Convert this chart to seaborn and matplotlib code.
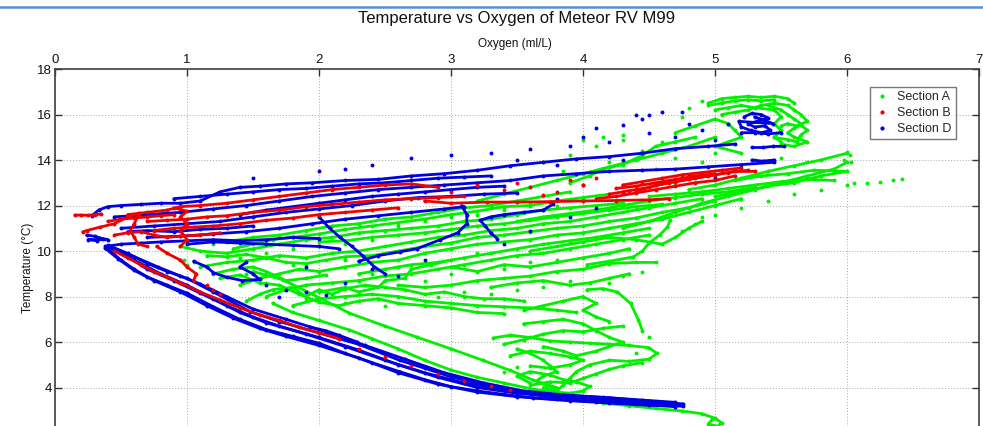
import matplotlib
matplotlib.use("Agg")
import matplotlib.pyplot as plt
import pandas as pd
import seaborn as sns
from matplotlib.lines import Line2D

# ---------------- data (oxygen ml/L, temperature degC) ----------------
SECTIONS = ["Section A", "Section B", "Section D"]
COLORS = {"Section A": "#00f000", "Section B": "#f00000", "Section D": "#0000e0"}
X_TICKS = [0, 1, 2, 3, 4, 5, 6, 7]
Y_TICKS = [4, 6, 8, 10, 12, 14, 16, 18]

# Section A (green) profiles
a_env = [(1.65, 7.7), (1.8, 7.3), (2.0, 6.95), (2.23, 6.53), (2.4, 6.15), (2.6, 5.7), (2.8, 5.2),
         (3.0, 4.77), (3.2, 4.45), (3.4, 4.2), (3.6, 3.95), (3.75, 3.8)]
a_env2 = [(1.5, 9.1), (1.73, 8.73), (2.0, 7.95), (2.23, 7.27), (2.5, 6.7), (2.74, 6.22), (3.0, 5.7),
          (3.24, 5.2), (3.45, 4.75), (3.62, 4.33), (3.8, 4.0)]
a_tail = [(3.8, 3.75), (4.0, 3.5), (4.15, 3.32), (4.35, 3.2), (4.55, 3.08), (4.75, 2.97), (4.9, 2.85),
          (5.0, 2.65), (5.05, 2.45), (5.02, 2.3), (4.95, 2.4), (4.98, 2.6)]
a_f1 = [(4.03, 8.3), (4.15, 8.35), (4.26, 8.2), (4.36, 7.7), (4.42, 6.97), (4.45, 6.5)]
a_f2 = [(3.32, 6.18), (3.45, 6.3), (3.6, 6.2), (3.75, 6.05), (3.9, 6.0), (4.05, 5.95), (4.2, 5.9),
        (4.35, 5.85), (4.5, 5.75), (4.56, 5.5), (4.5, 5.25), (4.35, 5.15), (4.2, 5.2), (4.05, 5.0),
        (3.95, 4.7), (3.9, 4.4), (3.85, 4.1), (3.8, 3.85)]
a_f3 = [(3.5, 5.7), (3.6, 5.5), (3.7, 5.2), (3.75, 4.95), (3.8, 4.7), (3.7, 4.5), (3.65, 4.3),
        (3.72, 4.1), (3.8, 3.9)]
a_f4 = [(3.55, 6.8), (3.7, 6.9), (3.85, 7.0), (4.0, 6.8), (4.1, 6.5), (4.2, 6.2), (4.3, 6.0),
        (4.1, 5.6), (3.95, 5.4), (3.85, 5.6), (3.7, 5.8)]
a_f5 = [(3.55, 7.4), (3.7, 7.6), (3.85, 7.8), (4.0, 8.0), (4.1, 7.7), (4.0, 7.4), (4.1, 7.1), (4.2, 6.9)]
a_f6 = [(3.7, 4.0), (3.8, 3.8), (3.9, 3.75), (4.0, 3.85), (4.05, 4.05), (3.95, 4.25), (3.85, 4.35),
        (3.75, 4.55), (3.6, 4.7), (3.5, 4.5), (3.6, 4.2)]
a_f7 = [(3.4, 5.9), (3.55, 6.1), (3.7, 6.35), (3.85, 6.5), (4.0, 6.45), (4.15, 6.6), (4.3, 6.7)]
a_f8 = [(3.6, 4.1), (3.75, 4.25), (3.9, 4.2), (4.0, 4.4), (4.1, 4.6), (4.2, 4.8), (4.3, 4.95), (4.45, 5.1)]
a_f9 = [(3.45, 5.4), (3.6, 5.6), (3.75, 5.5), (3.9, 5.35), (4.0, 5.2), (3.9, 5.0), (3.75, 4.85), (3.6, 4.95)]
a_c1 = [(0.95, 10.2), (1.1, 10.0), (1.3, 9.9), (1.5, 10.1), (1.7, 10.3), (1.9, 10.5), (2.1, 10.6),
        (2.3, 10.8), (2.5, 10.9), (2.7, 11.0), (2.9, 11.1), (3.1, 11.3), (3.3, 11.4), (3.5, 11.6),
        (3.7, 11.8), (3.9, 11.9), (4.1, 12.0), (4.3, 12.1)]
a_c2 = [(1.1, 9.3), (1.3, 9.5), (1.5, 9.6), (1.7, 9.8), (1.9, 9.7), (2.1, 9.9), (2.3, 10.0),
        (2.5, 10.2), (2.7, 10.4), (2.9, 10.6), (3.1, 10.7), (3.3, 10.9), (3.5, 11.0), (3.7, 11.2),
        (3.9, 11.3), (4.1, 11.5), (4.3, 11.7), (4.5, 11.9), (4.7, 12.1), (4.9, 12.3)]
a_c3 = [(1.4, 8.5), (1.55, 8.8), (1.7, 9.0), (1.85, 9.2), (2.0, 9.1), (2.2, 9.3), (2.4, 9.5),
        (2.6, 9.6), (2.8, 9.9), (3.0, 10.1), (3.2, 10.3), (3.4, 10.4), (3.6, 10.5), (3.8, 10.7),
        (4.0, 10.8), (4.2, 11.0), (4.4, 11.2), (4.6, 11.4), (4.8, 11.7), (5.0, 12.0), (5.2, 12.3)]
a_c4 = [(1.6, 8.0), (1.75, 8.3), (1.9, 8.5), (2.1, 8.6), (2.3, 8.7), (2.5, 8.9), (2.7, 9.0),
        (2.9, 9.2), (3.1, 9.4), (3.3, 9.6), (3.5, 9.8), (3.7, 9.9), (3.9, 10.1), (4.1, 10.3),
        (4.3, 10.5), (4.5, 10.7)]
a_c5 = [(1.8, 7.6), (2.0, 7.9), (2.2, 8.0), (2.4, 8.1), (2.6, 8.0), (2.8, 7.8), (3.0, 7.7),
        (3.2, 7.6), (3.4, 7.55), (3.6, 7.5), (3.8, 7.4), (3.95, 7.3)]
a_c6 = [(2.6, 8.5), (2.8, 8.4), (3.0, 8.5), (3.2, 8.7), (3.4, 8.8), (3.6, 8.9), (3.8, 9.1),
        (4.0, 9.2), (4.2, 9.45), (4.4, 9.5), (4.55, 9.5)]
a_c7 = [(4.03, 9.4), (4.2, 9.55), (4.38, 9.74), (4.45, 10.0), (4.5, 10.35), (4.58, 10.7),
        (4.64, 11.05), (4.66, 11.36)]
a_c8 = [(1.3, 10.4), (1.5, 10.6), (1.7, 10.7), (1.9, 10.9), (2.1, 11.1), (2.3, 11.2), (2.5, 11.4),
        (2.7, 11.5), (2.9, 11.7), (3.1, 11.9), (3.3, 12.0), (3.5, 12.2), (3.7, 12.4), (3.9, 12.6)]
a_c9 = [(2.0, 8.2), (2.2, 8.4), (2.3, 8.2), (2.45, 8.4), (2.5, 8.7), (2.65, 8.8), (2.7, 9.2),
        (2.85, 9.4), (3.0, 9.6)]
a_c10 = [(1.2, 9.0), (1.35, 9.2), (1.5, 9.3), (1.6, 9.1), (1.75, 8.7), (1.9, 8.8), (2.05, 8.95)]
a_c11 = [(1.15, 9.8), (1.3, 9.75), (1.45, 9.85), (1.6, 9.7), (1.75, 9.5), (1.9, 9.45), (2.05, 9.6),
         (2.2, 9.75), (2.4, 9.8), (2.6, 10.0), (2.8, 10.2), (3.0, 10.35), (3.2, 10.6), (3.4, 10.7),
         (3.6, 10.85), (3.8, 11.0), (4.0, 11.1), (4.2, 11.3), (4.4, 11.45), (4.6, 11.7), (4.8, 11.9),
         (5.0, 12.2)]
a_c12 = [(1.25, 8.8), (1.4, 8.95), (1.55, 8.6), (1.7, 8.5), (1.85, 8.1), (2.0, 7.75), (2.15, 7.6),
         (2.3, 7.8), (2.45, 7.9), (2.6, 7.7), (2.8, 7.6), (3.0, 7.5), (3.2, 7.3), (3.4, 7.25)]
a_c13 = [(2.0, 10.4), (2.2, 10.45), (2.4, 10.6), (2.6, 10.7), (2.8, 10.8), (3.0, 10.95), (3.2, 11.1),
         (3.4, 11.2), (3.6, 11.35), (3.8, 11.5), (4.0, 11.65), (4.2, 11.8), (4.4, 11.95), (4.6, 12.05)]
a_c14 = [(3.0, 9.3), (3.2, 9.1), (3.4, 9.4), (3.6, 9.3), (3.8, 9.5), (4.0, 9.7), (4.2, 9.9), (4.35, 10.1)]
a_c15 = [(3.3, 8.4), (3.5, 8.6), (3.7, 8.7), (3.9, 8.5), (4.05, 8.6), (4.2, 8.8), (4.35, 9.0)]
a_c16 = [(2.3, 9.0), (2.5, 9.2), (2.7, 9.4), (2.9, 9.5), (3.1, 9.7), (3.3, 9.9), (3.5, 10.1),
         (3.7, 10.3), (3.9, 10.45), (4.1, 10.6), (4.3, 10.8), (4.5, 11.0)]
a_c17 = [(1.35, 10.1), (1.5, 10.3), (1.65, 10.5), (1.8, 10.6), (2.0, 10.75), (2.2, 10.95), (2.4, 11.1),
         (2.6, 11.25), (2.8, 11.4), (3.0, 11.6), (3.2, 11.75), (3.4, 11.95), (3.6, 12.0), (3.8, 12.2),
         (4.0, 12.35), (4.2, 12.5)]
a_c18 = [(1.45, 7.8), (1.55, 8.1), (1.65, 8.3), (1.8, 8.4), (1.9, 8.0), (2.0, 8.3), (2.1, 8.1),
         (2.2, 8.35), (2.35, 8.5), (2.5, 8.4), (2.65, 8.3), (2.8, 8.1), (2.95, 8.2), (3.1, 8.0),
         (3.25, 7.9), (3.4, 7.9), (3.55, 7.8)]
a_c19 = [(3.5, 11.3), (3.7, 11.5), (3.9, 11.65), (4.1, 11.8), (4.3, 12.0), (4.5, 12.2), (4.7, 12.35),
         (4.9, 12.5), (5.1, 12.6), (5.3, 12.8)]
a_c20 = [(3.6, 10.0), (3.8, 10.2), (4.0, 10.4), (4.2, 10.6), (4.4, 10.5), (4.6, 10.3), (4.7, 10.6),
         (4.8, 11.0), (4.9, 11.3)]
a_u1 = [(3.2, 12.2), (3.4, 12.5), (3.6, 12.8), (3.8, 13.1), (4.0, 13.4), (4.2, 13.7), (4.4, 14.0),
        (4.6, 14.3), (4.8, 14.6), (5.0, 15.0)]
a_u2 = [(4.3, 11.0), (4.5, 11.3), (4.7, 11.7), (4.9, 12.1), (5.1, 12.4), (5.3, 12.7), (5.5, 13.0),
        (5.7, 13.3), (5.9, 13.6), (6.0, 13.9)]
a_u3 = [(4.8, 12.7), (5.0, 12.9), (5.2, 13.2), (5.4, 13.5), (5.6, 13.75), (5.8, 14.0), (6.0, 14.3)]
a_u4 = [(4.5, 12.4), (4.7, 12.5), (4.9, 12.6), (5.1, 12.75), (5.3, 12.9), (5.5, 13.05),
        (5.7, 13.15), (5.9, 13.1)]
a_u5 = [(5.0, 12.4), (5.2, 12.6), (5.4, 12.85), (5.6, 13.0), (5.8, 13.3), (6.0, 13.5), (5.75, 13.55),
        (5.55, 13.4), (5.35, 13.3), (5.15, 13.1)]
a_u6 = [(3.9, 13.0), (4.05, 13.3), (4.15, 13.6), (4.3, 13.8), (4.45, 14.2), (4.55, 14.6), (4.7, 14.8),
        (4.85, 15.0)]
a_t1 = [(4.95, 16.5), (5.05, 16.7), (5.15, 16.75), (5.25, 16.8), (5.35, 16.75), (5.45, 16.8),
        (5.55, 16.7), (5.6, 16.5)]
a_t2 = [(5.4, 16.4), (5.5, 16.2), (5.55, 16.0), (5.6, 15.8), (5.65, 15.6), (5.6, 15.4), (5.55, 15.2),
        (5.6, 15.0), (5.7, 14.8), (5.6, 14.6), (5.5, 14.7)]
a_t3 = [(5.0, 16.2), (5.1, 16.3), (5.2, 16.4), (5.3, 16.3), (5.45, 16.2), (5.5, 15.9), (5.45, 15.6),
        (5.5, 15.3), (5.45, 15.0), (5.5, 14.8)]
a_t4 = [(4.7, 15.2), (4.85, 15.5), (5.0, 15.8), (5.1, 15.6), (5.15, 15.3), (5.2, 15.0), (5.1, 14.8),
        (5.0, 14.6), (5.2, 14.3)]
a_t5 = [(5.05, 16.0), (5.15, 16.1), (5.25, 16.2), (5.35, 16.4), (5.45, 16.5), (5.55, 16.4), (5.6, 16.2),
        (5.65, 16.0), (5.7, 15.7), (5.62, 15.5), (5.55, 15.6), (5.5, 15.5)]
a_t6 = [(5.45, 15.0), (5.55, 14.9), (5.62, 14.8), (5.65, 15.1), (5.7, 15.3), (5.65, 15.55)]
a_t7 = [(4.95, 16.4), (5.05, 16.5), (5.15, 16.6), (5.25, 16.65), (5.35, 16.6), (5.45, 16.65)]
a_dots = [(1.0, 9.4), (1.05, 9.5), (0.98, 9.6), (1.2, 10.3), (1.45, 9.0), (1.6, 8.6), (1.8, 9.4),
          (2.0, 10.2), (2.2, 9.6), (2.4, 9.0), (2.6, 9.3), (2.8, 8.7), (3.0, 9.0), (3.2, 9.9),
          (3.4, 9.2), (3.6, 9.5), (3.8, 9.6), (3.5, 8.3), (3.3, 8.1), (3.1, 8.2), (2.9, 8.0),
          (2.5, 7.6), (2.2, 7.7), (1.9, 7.9), (3.7, 8.4), (3.9, 8.7), (4.2, 8.6), (4.3, 8.9),
          (4.45, 9.1), (4.75, 10.9), (4.85, 11.2), (4.9, 11.5), (5.0, 11.6), (5.2, 11.9), (5.4, 12.2),
          (5.6, 12.5), (5.8, 12.7), (6.0, 12.9), (5.9, 13.5), (5.7, 13.9), (5.5, 14.1), (5.3, 14.0),
          (4.7, 13.0), (4.4, 12.7), (4.2, 12.4), (4.0, 12.2), (3.8, 12.0), (3.6, 12.1), (3.4, 11.8),
          (3.2, 11.6), (3.0, 11.5), (2.8, 11.3), (2.6, 11.1), (2.4, 10.5), (2.2, 10.3), (1.8, 10.1),
          (1.6, 9.9), (1.4, 9.7), (3.7, 13.9), (3.9, 14.2), (4.1, 14.6), (4.3, 14.9), (4.45, 14.4),
          (4.6, 14.8), (4.7, 14.1), (4.2, 13.9), (3.85, 13.5), (4.55, 13.6), (4.9, 13.9), (5.0, 14.3),
          (4.0, 14.9), (4.3, 15.1), (4.15, 15.0), (4.8, 16.3), (4.9, 16.6), (4.75, 15.9),
          (6.05, 13.0), (6.15, 13.0), (6.25, 13.05), (6.35, 13.1), (6.42, 13.15), (6.0, 14.35),
          (6.02, 14.2), (5.98, 14.0), (6.03, 13.9), (4.5, 6.2), (4.4, 5.5), (3.4, 4.7), (3.5, 4.9)]

# Section B (red) profiles
b_nose = [(0.15, 11.58), (0.2, 11.58), (0.25, 11.57), (0.3, 11.6), (0.35, 11.62)]
b_a = [(0.21, 10.84), (0.24, 10.9), (0.34, 11.05), (0.45, 11.2), (0.55, 11.5), (0.64, 11.67),
       (0.6, 11.2), (0.57, 10.9), (0.6, 10.6), (0.63, 10.3), (0.7, 10.2)]
b_b = [(0.55, 11.6), (0.7, 11.7), (0.85, 11.8), (0.95, 11.95), (1.1, 12.0), (1.3, 12.1), (1.5, 12.25),
       (1.7, 12.4), (1.9, 12.55), (2.1, 12.7), (2.3, 12.8), (2.5, 12.9), (2.7, 12.95), (2.9, 12.8)]
b_c = [(0.7, 11.3), (0.85, 11.35), (1.0, 11.4), (1.15, 11.5), (1.3, 11.55), (1.5, 11.7), (1.7, 11.8),
       (1.9, 11.95), (2.1, 12.05), (2.3, 12.15), (2.5, 12.25), (2.7, 12.3), (2.9, 12.35), (3.1, 12.4)]
b_d = [(0.75, 10.9), (0.9, 11.0), (1.05, 11.05), (1.2, 11.1), (1.4, 11.2), (1.6, 11.35), (1.8, 11.45),
       (2.0, 11.6), (2.2, 11.7), (2.4, 11.8), (2.6, 11.9)]
b_f = [(0.4, 11.3), (0.5, 11.4), (0.6, 11.45), (0.7, 11.5), (0.8, 11.55), (0.9, 11.6)]
b_g = [(0.45, 10.7), (0.55, 10.8), (0.65, 10.85), (0.75, 10.7), (0.85, 10.6), (0.95, 10.65), (1.1, 10.7),
       (1.25, 10.8)]
b_h = [(0.9, 11.9), (1.0, 11.75), (0.95, 11.5), (1.0, 11.2), (0.95, 10.9), (1.0, 10.5), (0.95, 10.2)]
b_line = [(2.8, 12.2), (3.0, 12.1), (3.27, 12.15), (3.5, 12.15), (3.75, 12.17), (4.0, 12.2),
          (4.25, 12.22), (4.5, 12.25), (4.65, 12.3)]
b_e1 = [(4.2, 12.5), (4.35, 12.65), (4.5, 12.8), (4.65, 13.0), (4.8, 13.15), (4.95, 13.3),
        (5.1, 13.45), (5.25, 13.55)]
b_e2 = [(4.3, 12.9), (4.45, 13.05), (4.6, 13.2), (4.75, 13.35), (4.9, 13.45), (5.05, 13.55), (5.2, 13.65)]
b_e3 = [(4.1, 12.3), (4.25, 12.4), (4.4, 12.55), (4.55, 12.7), (4.7, 12.85), (4.85, 13.0), (5.0, 13.1),
        (5.15, 13.3)]
b_e4 = [(4.4, 12.6), (4.55, 12.9), (4.7, 13.05), (4.85, 13.2), (5.0, 13.35), (5.15, 13.5), (5.3, 13.5)]
b_e5 = [(4.25, 12.75), (4.4, 12.85), (4.55, 13.0), (4.7, 13.15), (4.85, 13.3), (5.0, 13.4)]
b_low = [(0.45, 10.0), (0.55, 9.7), (0.65, 9.4), (0.75, 9.1), (0.85, 8.85), (0.95, 8.6), (1.1, 8.2),
         (1.25, 7.85), (1.4, 7.5), (1.55, 7.2), (1.7, 6.95), (1.85, 6.65), (2.0, 6.4), (2.15, 6.15)]
b_w = [(0.77, 10.2), (0.85, 9.9), (0.95, 9.6), (1.0, 9.3), (1.07, 9.0), (1.05, 8.7)]
b_dots = [(2.3, 5.7), (2.5, 5.35), (2.7, 4.95), (2.9, 4.6), (3.1, 4.3), (3.3, 4.05), (3.45, 3.9),
          (3.4, 12.7), (3.6, 12.8), (3.8, 12.6), (4.0, 12.9), (3.9, 13.1), (3.5, 13.0), (3.2, 12.9),
          (3.0, 12.6), (4.1, 13.2), (3.7, 12.45), (1.15, 8.5), (1.25, 8.1), (1.2, 8.3)]

# Section D (blue) profiles
d_env_low = [(0.39, 10.15), (0.5, 9.6), (0.6, 9.2), (0.7, 8.86), (0.85, 8.5), (1.0, 8.15), (1.2, 7.55),
             (1.4, 7.0), (1.6, 6.55), (1.8, 6.25), (2.0, 5.95), (2.2, 5.5), (2.4, 5.1), (2.61, 4.7),
             (2.8, 4.35), (3.0, 4.04), (3.2, 3.85), (3.4, 3.7), (3.62, 3.54), (3.9, 3.42),
             (4.2, 3.32), (4.5, 3.22), (4.76, 3.18)]
d_env_up = [(0.4, 10.25), (0.55, 9.9), (0.7, 9.45), (0.85, 9.1), (1.0, 8.8), (1.2, 8.2), (1.48, 7.33),
            (1.7, 6.9), (2.0, 6.4), (2.3, 5.9), (2.61, 5.2), (2.8, 4.85), (3.0, 4.47), (3.3, 4.05),
            (3.62, 3.76), (3.9, 3.65), (4.2, 3.55), (4.5, 3.4), (4.76, 3.28)]
d_env_mid = [(0.42, 10.2), (0.6, 9.6), (0.8, 9.0), (1.0, 8.5), (1.2, 7.9), (1.4, 7.3), (1.6, 6.85),
             (1.9, 6.35), (2.2, 5.8), (2.5, 5.2), (2.8, 4.65), (3.1, 4.2), (3.4, 3.9), (3.7, 3.65),
             (4.0, 3.52), (4.3, 3.42), (4.6, 3.3)]
d_env_a = [(0.4, 10.18), (0.55, 9.75), (0.7, 9.2), (0.9, 8.7), (1.1, 8.15), (1.3, 7.6), (1.5, 7.1),
           (1.7, 6.7), (2.0, 6.2), (2.3, 5.65), (2.6, 5.0), (2.9, 4.45), (3.2, 4.0), (3.5, 3.75),
           (3.8, 3.58), (4.1, 3.47), (4.4, 3.35), (4.7, 3.25)]
d_env_b = [(0.41, 10.22), (0.6, 9.75), (0.78, 9.3), (0.95, 8.9), (1.1, 8.55), (1.3, 8.0), (1.5, 7.45),
           (1.75, 7.0), (2.05, 6.45), (2.35, 5.85), (2.65, 5.25), (2.95, 4.65), (3.25, 4.2),
           (3.55, 3.85), (3.85, 3.68), (4.15, 3.57), (4.45, 3.45), (4.7, 3.35)]
d_env_c = [(0.38, 10.12), (0.48, 9.65), (0.6, 9.15), (0.75, 8.7), (0.95, 8.2), (1.15, 7.6), (1.35, 7.05),
           (1.55, 6.6), (1.75, 6.25), (2.0, 5.85), (2.3, 5.3), (2.6, 4.65), (2.9, 4.15), (3.2, 3.8),
           (3.5, 3.6), (3.8, 3.48), (4.1, 3.38), (4.4, 3.27), (4.7, 3.16)]
d_branch = [(1.93, 6.66), (2.05, 6.5), (2.15, 6.3), (2.29, 6.0)]
d_nose_top = [(0.38, 10.2), (0.5, 10.3), (0.65, 10.35), (0.8, 10.4), (1.0, 10.45), (1.2, 10.5),
              (1.4, 10.45), (1.6, 10.5), (1.8, 10.6), (2.0, 10.55)]
d_top = [(0.28, 11.55), (0.33, 11.8), (0.4, 11.95), (0.5, 12.0), (0.65, 12.05), (0.8, 12.1),
         (0.95, 12.1), (1.1, 12.2), (1.25, 12.6), (1.4, 12.8), (1.55, 12.85), (1.75, 12.95),
         (1.95, 13.0), (2.2, 13.1), (2.45, 13.15), (2.7, 13.3), (2.95, 13.4), (3.2, 13.55),
         (3.45, 13.75), (3.7, 13.9), (3.95, 14.05), (4.2, 14.15), (4.45, 14.3), (4.7, 14.5),
         (4.95, 14.6), (5.15, 14.7)]
d_b1 = [(0.45, 11.5), (0.7, 11.6), (0.95, 11.7), (1.2, 11.85), (1.45, 12.0), (1.7, 12.2), (1.95, 12.4),
        (2.2, 12.55), (2.45, 12.7), (2.7, 12.8), (2.95, 12.9), (3.2, 13.0), (3.45, 13.1), (3.7, 13.3),
        (3.95, 13.4), (4.2, 13.5), (4.45, 13.55), (4.7, 13.6), (4.95, 13.7), (5.2, 13.8), (5.45, 13.9)]
d_b2 = [(0.5, 11.0), (0.75, 11.1), (1.0, 11.2), (1.25, 11.3), (1.5, 11.5), (1.75, 11.7), (2.0, 11.85),
        (2.25, 12.0), (2.5, 12.2), (2.75, 12.35), (3.0, 12.4), (3.25, 12.5), (3.5, 12.55)]
d_b3 = [(0.7, 10.6), (0.95, 10.65), (1.2, 10.75), (1.45, 10.85), (1.7, 11.0), (1.95, 11.2),
        (2.2, 11.4), (2.45, 11.55), (2.7, 11.7), (2.95, 11.85), (3.1, 11.95)]
d_b4 = [(0.55, 10.85), (0.7, 10.9), (0.9, 10.85), (1.1, 10.95), (1.3, 11.0), (1.5, 11.1)]
d_b5 = [(0.9, 12.3), (1.1, 12.4), (1.3, 12.5), (1.5, 12.6), (1.7, 12.7), (1.9, 12.75), (2.1, 12.85),
        (2.3, 12.95), (2.5, 13.0), (2.7, 13.1), (2.9, 13.2), (3.1, 13.25), (3.3, 13.3)]
d_b6 = [(1.4, 11.6), (1.6, 11.8), (1.8, 11.95), (2.0, 12.1), (2.2, 12.25), (2.4, 12.4), (2.6, 12.5),
        (2.8, 12.6), (3.0, 12.7), (3.2, 12.8), (3.4, 12.85)]
d_loop1 = [(2.0, 11.5), (2.08, 11.0), (2.16, 10.6), (2.25, 10.2), (2.33, 9.8), (2.42, 9.3), (2.5, 9.0)]
d_loop2 = [(2.3, 9.55), (2.45, 9.8), (2.61, 9.96), (2.74, 10.1), (2.92, 10.5), (3.05, 10.8),
           (3.12, 11.2), (3.12, 11.6), (3.08, 12.0)]
d_y = [(3.35, 10.55), (3.3, 10.8), (3.26, 11.1), (3.22, 11.35), (3.3, 11.5), (3.4, 11.6), (3.55, 11.7),
       (3.7, 11.8), (3.77, 12.05)]
d_mid1 = [(1.0, 10.3), (1.2, 10.4), (1.4, 10.35), (1.6, 10.3), (1.8, 10.25), (2.0, 10.2), (2.15, 10.1)]
d_mid2 = [(1.05, 9.55), (1.15, 9.3), (1.2, 9.05), (1.3, 8.85), (1.42, 8.7), (1.55, 8.75), (1.5, 9.0),
          (1.4, 9.3), (1.45, 9.5)]
d_left = [(0.24, 10.7), (0.3, 10.65), (0.36, 10.55), (0.4, 10.5), (0.25, 10.5), (0.32, 10.45)]
d_blob = [(5.22, 15.9), (5.28, 16.05), (5.35, 16.0), (5.4, 15.85), (5.32, 15.7), (5.25, 15.6),
          (5.3, 15.45), (5.38, 15.5), (5.42, 15.3), (5.35, 15.2), (5.27, 15.3), (5.2, 15.45),
          (5.18, 15.7), (5.44, 15.6), (5.3, 15.9)]
d_streak1 = [(5.2, 15.2), (5.3, 15.2), (5.4, 15.15), (5.5, 15.2)]
d_streak2 = [(5.28, 14.55), (5.36, 14.55), (5.44, 14.6), (5.52, 14.6)]
d_streak3 = [(5.28, 14.0), (5.36, 13.95), (5.45, 14.0)]
d_dots = [(1.6, 8.5), (1.75, 8.3), (1.9, 8.2), (2.05, 8.05), (1.7, 8.0), (2.2, 8.6), (2.4, 9.2),
          (2.6, 8.9), (1.9, 9.3), (2.8, 9.6), (3.4, 10.3), (3.6, 10.9), (3.9, 11.5), (4.1, 11.9),
          (4.3, 12.6), (3.8, 12.3), (4.0, 12.9), (4.6, 13.0), (4.8, 13.3), (5.0, 13.2), (3.9, 14.6),
          (4.0, 15.0), (4.2, 14.8), (4.5, 15.2), (4.7, 15.0), (4.9, 15.3), (5.0, 14.9), (4.4, 16.0),
          (4.45, 15.8), (4.5, 16.0), (4.6, 16.1), (4.75, 16.1), (4.3, 15.55), (4.1, 15.4),
          (3.6, 14.5), (3.3, 14.3), (3.0, 14.2), (2.7, 14.1), (2.4, 13.8), (2.2, 13.6), (2.0, 13.5),
          (1.5, 13.2), (5.1, 15.6), (4.8, 15.6), (3.5, 14.0), (3.8, 13.8), (4.3, 14.0)]

A_TRACES = [a_env, a_env2, a_tail, a_f1, a_f2, a_f3, a_f4, a_f5, a_f6, a_f7, a_f8, a_f9,
            a_c1, a_c2, a_c3, a_c4, a_c5, a_c6, a_c7, a_c8, a_c9, a_c10, a_c11, a_c12, a_c13,
            a_c14, a_c15, a_c16, a_c17, a_c18, a_c19, a_c20, a_u1, a_u2, a_u3, a_u4, a_u5, a_u6,
            a_t1, a_t2, a_t3, a_t4, a_t5, a_t6, a_t7]
B_TRACES = [b_nose, b_a, b_b, b_c, b_d, b_f, b_g, b_h, b_line, b_e1, b_e2, b_e3, b_e4, b_e5,
            b_low, b_w]
D_TRACES = [d_env_low, d_env_up, d_env_mid, d_env_a, d_env_b, d_env_c, d_branch, d_nose_top,
            d_top, d_b1, d_b2, d_b3, d_b4, d_b5, d_b6, d_loop1, d_loop2, d_y, d_mid1, d_mid2,
            d_left, d_blob, d_streak1, d_streak2, d_streak3]


def traces_frame(traces, section):
    rows = []
    for i, tr in enumerate(traces):
        for o, t in tr:
            rows.append((section, i, o, t))
    return pd.DataFrame(rows, columns=["section", "trace", "o2", "temp"])


def dots_frame(dots, section):
    return pd.DataFrame([(section, -1, o, t) for o, t in dots],
                        columns=["section", "trace", "o2", "temp"])


sns.set_style("white")
plt.rcParams["font.family"] = ["Liberation Sans", "DejaVu Sans"]

fig = plt.figure(figsize=(9.83, 4.26), dpi=100)
W, H = 983, 426
ax = fig.add_axes([55 / W, 0, (979 - 55) / W, (426 - 69) / H])

layers = [("Section A", A_TRACES, a_dots, 2), ("Section D", D_TRACES, d_dots, 3),
          ("Section B", B_TRACES, b_dots, 4)]
for sec, traces, dots, z in layers:
    tdf = traces_frame(traces, sec)
    sns.lineplot(data=tdf, x="o2", y="temp", units="trace", estimator=None, sort=False,
                 color=COLORS[sec], linewidth=2.0, ax=ax, legend=False, zorder=z)
    allpts = pd.concat([tdf, dots_frame(dots, sec)], ignore_index=True)
    sns.scatterplot(data=allpts, x="o2", y="temp", color=COLORS[sec], s=8, linewidth=0,
                    ax=ax, legend=False, zorder=z)

ax.set_xlim(0, 7)
ax.set_ylim(2.31, 18)
ax.set_xticks(X_TICKS)
ax.set_yticks(Y_TICKS)
ax.set_xlabel("")
ax.set_ylabel("")
ax.xaxis.tick_top()
ax.tick_params(axis="both", direction="in", length=5, width=1.0, labelsize=9.5,
               colors="#333333", labelcolor="#111111", pad=2)
ax.tick_params(axis="x", top=True, bottom=False, labeltop=True, labelbottom=False)
ax.tick_params(axis="y", left=True, right=True, labelleft=True, labelright=False)
ax.grid(True, linestyle=(0, (1, 2)), color="#a8a8a8", linewidth=0.7)
ax.set_axisbelow(True)
for name, sp in ax.spines.items():
    sp.set_color("#404040")
    sp.set_linewidth(1.2)
ax.spines["bottom"].set_visible(False)

fig.text(517 / W, 1 - 19 / H, "Temperature vs Oxygen of Meteor RV M99", ha="center", va="center",
         fontsize=12, color="#111111")
fig.text(515 / W, 1 - 44 / H, "Oxygen (ml/L)", ha="center", va="center", fontsize=8.5,
         color="#111111")
fig.text(28 / W, 1 - 268 / H, "Temperature (°C)", ha="center", va="center", rotation=90,
         fontsize=8.5, color="#111111")

fig.add_artist(Line2D([0, 1], [1 - 6.5 / H, 1 - 6.5 / H], transform=fig.transFigure,
                      color="#5a8fd8", linewidth=1.8))

handles = [Line2D([], [], marker=".", linestyle="", color=COLORS[s], markersize=4, label=s)
           for s in SECTIONS]
leg = ax.legend(handles=handles, loc="upper left", bbox_to_anchor=(870 / W, 1 - 87 / H),
                bbox_transform=fig.transFigure, fontsize=9, frameon=True, fancybox=False,
                handlelength=1.2, handletextpad=0.6, borderpad=0.35, labelspacing=0.3,
                borderaxespad=0)
leg.get_frame().set_edgecolor("#555555")
leg.get_frame().set_linewidth(1.0)
leg.set_zorder(10)

fig.savefig("out.png", dpi=100)
